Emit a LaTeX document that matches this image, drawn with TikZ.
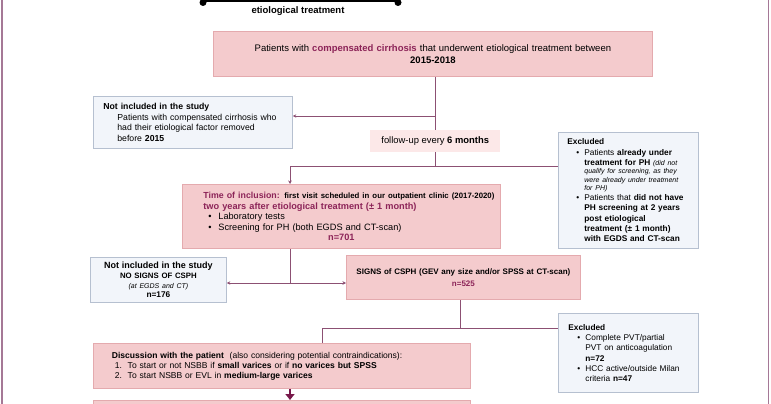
\documentclass[tikz,border=0pt]{standalone}
\usepackage{fontspec}
\setmainfont{Liberation Sans}
\usetikzlibrary{arrows.meta,backgrounds}
\definecolor{pinkfill}{RGB}{244,203,205}
\definecolor{pinkdraw}{RGB}{228,170,174}
\definecolor{lpink}{RGB}{252,232,232}
\definecolor{bluefill}{RGB}{242,245,250}
\definecolor{bluedraw}{RGB}{182,192,208}
\definecolor{purp}{RGB}{140,36,88}
\definecolor{conn}{RGB}{140,80,115}
\definecolor{framecol}{RGB}{165,120,150}
\definecolor{darkarrow}{RGB}{120,25,75}
\newcommand{\myb}{\hspace*{9pt}\makebox[8pt][l]{•}}
\newcommand{\myc}{\hspace*{17pt}}
\newcommand{\myital}{\fontsize{7}{8}\selectfont\itshape}
\newcommand{\fs}[2]{\fontsize{#1}{#2}\selectfont}
\begin{document}
\begin{tikzpicture}[x=1pt,y=-1pt,
  font=\fs{8.3}{10.3},
  pinkbox/.style={draw=pinkdraw, fill=pinkfill, line width=0.8pt, inner sep=0pt, anchor=north west},
  bluebox/.style={draw=bluedraw, fill=bluefill, line width=0.8pt, inner sep=0pt, anchor=north west},
  conline/.style={draw=conn, line width=0.9pt},
  conarrow/.style={conline, -{Stealth[length=3.5pt,width=3.5pt]}}]
\useasboundingbox (0,0) rectangle (771,404);
% frame
\draw[framecol, line width=1.5pt] (2,-5) -- (2,410);
\draw[framecol, line width=1.5pt] (768.5,-5) -- (768.5,410);
% top bar
\draw[black, line width=4pt] (203,0) -- (398,0);
\fill[black] (203,2.5) circle (3.5);
\fill[black] (398,2.5) circle (3.5);
\node[font=\fs{9.5}{11}\bfseries] (etio) at (298,11) {etiological treatment};
% boxes
\node[pinkbox, minimum width=439, minimum height=45, text width=430, align=center, font=\fs{9.5}{12.5}] (b1) at (213,31)
  {Patients with \textcolor{purp}{\textbf{compensated cirrhosis}} that underwent etiological treatment between\\ \textbf{2015-2018}};
\node[bluebox, minimum width=199, minimum height=52, text width=179, align=left, font=\fs{8.7}{10.8}] (b2) at (93,96)
  {\textbf{Not included in the study}\\
   \hspace*{14pt}Patients with compensated cirrhosis who\\
   \hspace*{14pt}had their etiological factor removed\\
   \hspace*{14pt}before \textbf{2015}};
\node[fill=lpink, inner sep=0pt, anchor=north west, minimum width=130, minimum height=22, font=\fs{9.4}{11}] (fu) at (370,130)
  {follow-up every \textbf{6 months}};
\node[bluebox, minimum width=140, minimum height=116, text width=122, align=left] (ex1) at (558,132)
  {\textbf{Excluded}\\
   \myb Patients \textbf{already under}\\
   \myc\textbf{treatment for PH} {\myital(did not}\\[-2pt]
   \myc{\myital qualify for screening, as they}\\[-2pt]
   \myc{\myital were already under treatment}\\[-2pt]
   \myc{\myital for PH)}\\
   \myb Patients that \textbf{did not have}\\
   \myc\textbf{PH screening at 2 years}\\
   \myc\textbf{post etiological}\\
   \myc\textbf{treatment (± 1 month)}\\
   \myc\textbf{with EGDS and CT-scan}};
\node[pinkbox, minimum width=318, minimum height=64, text width=316, font=\fs{9.2}{10.5}] (b3) at (182,184)
  {\raggedright\leftskip=20pt{\fs{8.8}{10.5}\textcolor{purp}{\textbf{Time of inclusion:}}} {\fs{7.8}{10.5}\textbf{first visit scheduled in our outpatient clinic (2017-2020)}}\\
   \textcolor{purp}{\textbf{two years after etiological treatment (± 1 month)}}\\
   \hspace*{5pt}\makebox[10pt][l]{•}Laboratory tests\\
   \hspace*{5pt}\makebox[10pt][l]{•}Screening for PH (both EGDS and CT-scan)\par
   \centering\textcolor{purp}{\textbf{n=701}}\par};
\node[bluebox, minimum width=136, minimum height=45, text width=130, align=center] (ns) at (90,257)
  {{\fs{9}{10}\textbf{Not included in the study}}\\[-0.5pt]
   {\fs{7.8}{10}\textbf{NO SIGNS OF CSPH}}\\[-1pt]
   {\myital (at EGDS and CT)}\\[-1pt]
   \textbf{n=176}};
\node[pinkbox, minimum width=234, minimum height=44, text width=230, align=center, font=\fs{8}{11.5}] (sg) at (346,255)
  {\textbf{SIGNS of CSPH (GEV any size and/or SPSS at CT-scan)}\\ \textcolor{purp}{\textbf{n=525}}};
\node[bluebox, minimum width=140, minimum height=79, text width=120, align=left] (ex2) at (558,313)
  {\textbf{Excluded}\\
   \myb Complete PVT/partial\\
   \myc PVT on anticoagulation\\
   \myc\textbf{n=72}\\
   \myb HCC active/outside Milan\\
   \myc criteria \textbf{n=47}};
\node[pinkbox, minimum width=377, minimum height=45, text width=340, align=left, font=\fs{8.55}{10}] (disc) at (93,343)
  {\textbf{Discussion with the patient}\ \ (also considering potential contraindications):\\
   \hspace*{3pt}1.\ \ To start or not NSBB if \textbf{small varices} or if \textbf{no varices but SPSS}\\
   \hspace*{3pt}2.\ \ To start NSBB or EVL in \textbf{medium-large varices}};
\node[pinkbox, minimum width=377, minimum height=30] (nx) at (93,400) {};
% connectors
\coordinate (j1) at (435,166);
\coordinate (j1a) at (435,116);
\coordinate (j2) at (290,166);
\coordinate (j3) at (290,283);
\coordinate (j4) at (460,328);
\coordinate (j5) at (322,328);
\begin{scope}[on background layer]
\draw[conline] (b1.south -| j1) -- (j1);
\draw[conarrow] (j1a) -- (b2.east |- j1a);
\draw[conline] (j2) -- (ex1.west |- j2);
\draw[conarrow] (j2) -- (b3.north -| j2);
\draw[conline] (b3.south -| j3) -- (j3);
\draw[conarrow] (j3) -- (ns.east |- j3);
\draw[conarrow] (j3) -- (sg.west |- j3);
\draw[conline] (sg.south -| j4) -- (j4);
\draw[conline] (j5) -- (ex2.west |- j5);
\draw[conline] (j5) -- (disc.north -| j5);
\end{scope}
\draw[darkarrow, line width=2.6pt, -{Triangle[length=6pt,width=9pt]}] (disc.south -| 290,0) -- (nx.north -| 290,0);
\end{tikzpicture}
\end{document}
